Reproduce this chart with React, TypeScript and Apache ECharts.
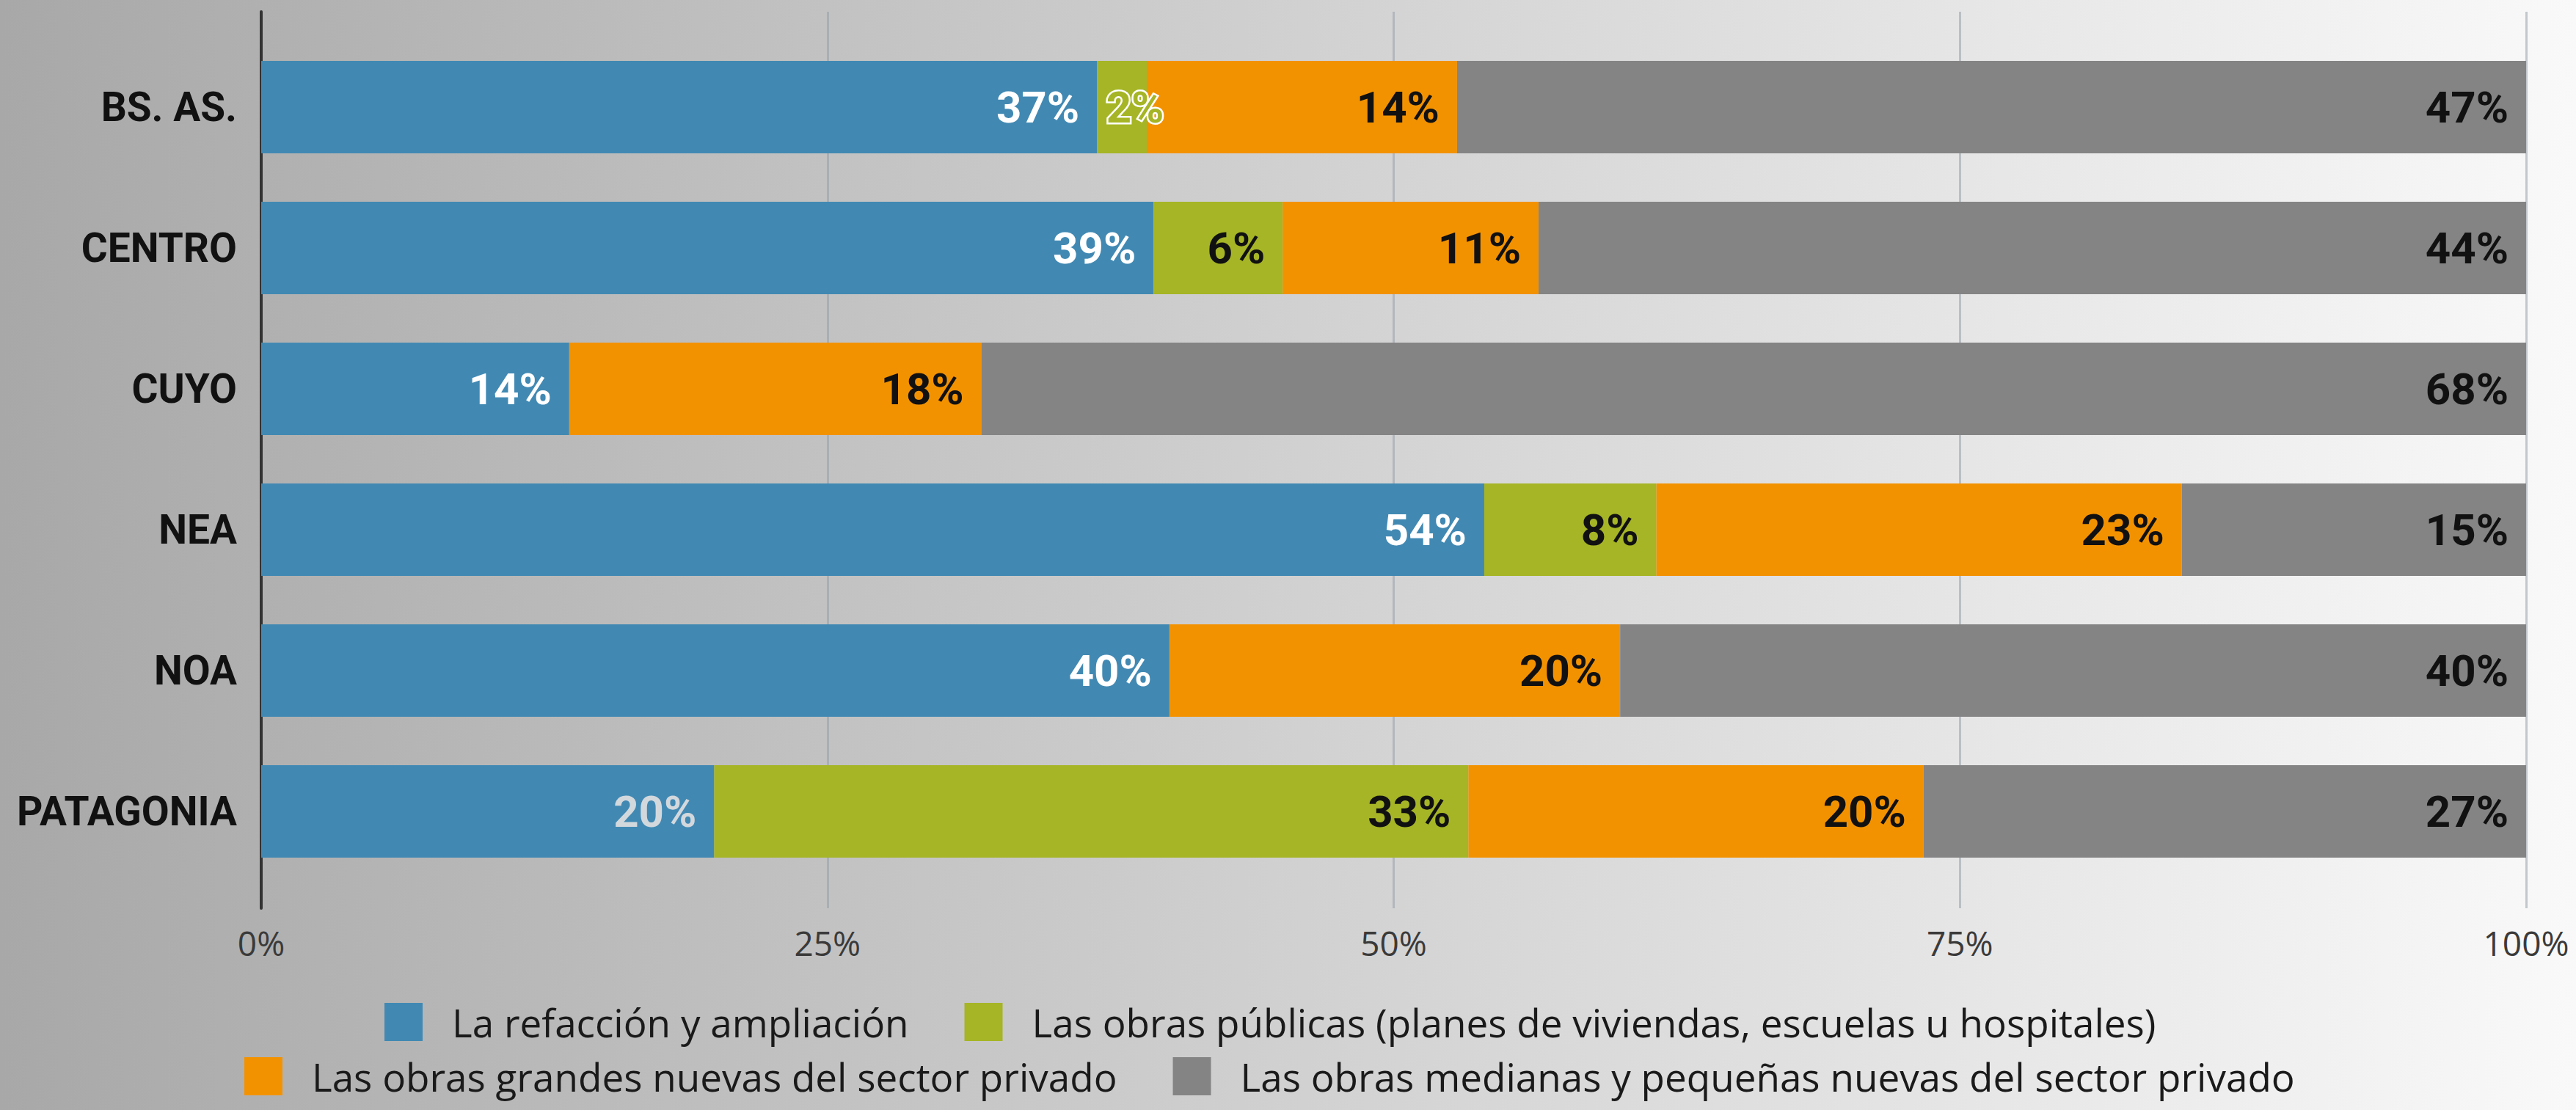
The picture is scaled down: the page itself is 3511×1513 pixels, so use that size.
import React, { useEffect, useRef } from "react";
import * as echarts from "echarts";

const categories = ["BS. AS.", "CENTRO", "CUYO", "NEA", "NOA", "PATAGONIA"];
const seriesNames = [
  "La refacción y ampliación",
  "Las obras públicas (planes de viviendas, escuelas u hospitales)",
  "Las obras grandes nuevas del sector privado",
  "Las obras medianas y pequeñas nuevas del sector privado",
];
const refaccion = [36.9, 39.4, 13.6, 54.0, 40.1, 20.0];
const publicas = [2.2, 5.7, 0, 7.6, 0, 33.3];
const grandes = [13.7, 11.3, 18.2, 23.2, 19.9, 20.1];
const medianas = [47.2, 43.6, 68.2, 15.2, 40.0, 26.6];
const xTicks = [0, 25, 50, 75, 100];

const colors = ["#4189b3", "#a5b525", "#f39200", "#848484"];
const labelColors = ["#ffffff", "#111111", "#111111", "#111111"];

export default function App() {
  const ref = useRef<HTMLDivElement>(null);
  useEffect(() => {
    document.body.style.margin = "0";
    if (!ref.current) return;
    const chart = echarts.init(ref.current, null, { renderer: "svg" });
    const values = [refaccion, publicas, grandes, medianas];
    const fmt = (p: any) => (p.value > 0 ? Math.round(p.value) + "%" : "");
    const series = values.map((arr, si) => ({
      name: seriesNames[si],
      type: "bar",
      stack: "total",
      xAxisIndex: 0,
      yAxisIndex: 0,
      barWidth: 126,
      itemStyle: { color: colors[si] },
      label: {
        show: true,
        position: "insideRight",
        distance: 24,
        formatter: fmt,
        color: labelColors[si],
        fontFamily: "Roboto",
        fontWeight: "bold",
        fontSize: 60,
      },
      data: arr.map((v, i) => {
        if (si === 1 && i === 0) {
          return {
            value: v,
            label: {
              position: "inside",
              offset: [18, 0],
              color: colors[1],
              textBorderColor: "#ffffff",
              textBorderWidth: 5,
            },
          };
        }
        if (si === 0 && i === 5) {
          return { value: v, label: { color: "#d3d8dd" } };
        }
        return v;
      }),
    }));

    const legendText = {
      fontFamily: "Open Sans",
      fontSize: 53,
      lineHeight: 58,
      color: "#1a1a1a",
      padding: [0, 0, 0, 35],
    };

    chart.setOption({
      animation: false,
      backgroundColor: "transparent",
      grid: [
        { left: 356, right: 68, top: 50, height: 1152 },
        { left: 356, right: 68, top: 16, bottom: 275 },
      ],
      xAxis: [
        { type: "value", gridIndex: 0, min: 0, max: 100, show: false },
        {
          type: "value",
          gridIndex: 1,
          min: xTicks[0],
          max: xTicks[xTicks.length - 1],
          interval: 25,
          axisLine: { show: false },
          axisTick: { show: false },
          splitLine: { show: true, lineStyle: { color: "rgba(150,160,170,0.55)", width: 3 } },
          axisLabel: {
            formatter: "{value}%",
            fontFamily: "Open Sans",
            fontSize: 46,
            color: "#3a3a3a",
            margin: 24,
          },
        },
      ],
      yAxis: [
        {
          type: "category",
          gridIndex: 0,
          data: categories,
          inverse: true,
          axisLine: { show: false },
          axisTick: { show: false },
          splitLine: { show: false },
          axisLabel: {
            fontFamily: "Roboto",
            fontWeight: "bold",
            fontSize: 55,
            color: "#111111",
            margin: 33,
          },
        },
        {
          type: "value",
          gridIndex: 1,
          axisLine: { show: true, lineStyle: { color: "#333333", width: 4 } },
          axisTick: { show: false },
          axisLabel: { show: false },
          splitLine: { show: false },
        },
      ],
      legend: [
        {
          data: seriesNames.slice(0, 2),
          left: 524,
          top: 1364,
          padding: 0,
          icon: "rect",
          itemWidth: 52,
          itemHeight: 52,
          itemGap: 76,
          textStyle: legendText,
        },
        {
          data: seriesNames.slice(2, 4),
          left: 333,
          top: 1438,
          padding: 0,
          icon: "rect",
          itemWidth: 52,
          itemHeight: 52,
          itemGap: 76,
          textStyle: legendText,
        },
      ],
      series,
    });
    return () => chart.dispose();
  }, []);
  return (
    <div
      ref={ref}
      style={{
        width: 3511,
        height: 1513,
        background: "linear-gradient(to right, #a8a8a8, #f9f9f9)",
      }}
    />
  );
}
